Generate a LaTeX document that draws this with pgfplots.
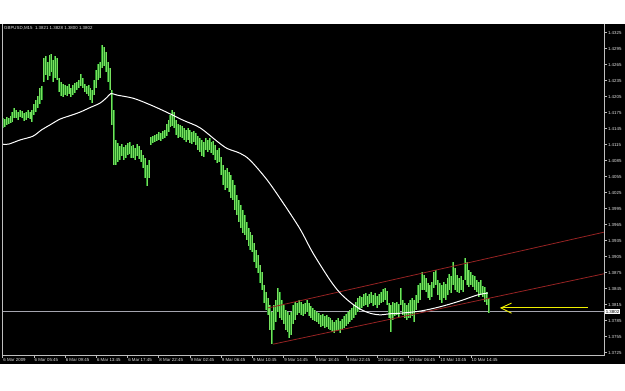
\documentclass[border=0pt]{standalone}
\usepackage{fontspec}
\setmainfont{Liberation Sans}
\usepackage{pgfplots}
\usepackage{pgfplotstable}
\pgfplotsset{compat=1.18}
\definecolor{barDark}{RGB}{40,140,40}
\definecolor{barLight}{RGB}{120,225,95}
\definecolor{chan}{RGB}{150,35,35}
\definecolor{axgray}{RGB}{190,190,190}
\definecolor{hline}{RGB}{165,165,175}
\definecolor{txt}{RGB}{225,225,225}
\definecolor{arrowy}{RGB}{240,240,0}

\pgfplotstableread{
i h l
0 1.4165 1.4146
1 1.4163 1.4148
2 1.4167 1.4152
3 1.4165 1.4154
4 1.4169 1.4156
5 1.4176 1.4158
6 1.4184 1.4165
7 1.4180 1.4165
8 1.4176 1.4161
9 1.4180 1.4167
10 1.4178 1.4165
11 1.4174 1.4159
12 1.4176 1.4161
13 1.4180 1.4165
14 1.4176 1.4163
15 1.4180 1.4158
16 1.4191 1.4171
17 1.4199 1.4176
18 1.4206 1.4184
19 1.4221 1.4191
20 1.4225 1.4199
21 1.4278 1.4233
22 1.4281 1.4246
23 1.4270 1.4236
24 1.4283 1.4244
25 1.4285 1.4251
26 1.4274 1.4233
27 1.4281 1.4240
28 1.4278 1.4236
29 1.4240 1.4214
30 1.4233 1.4206
31 1.4229 1.4204
32 1.4227 1.4208
33 1.4225 1.4206
34 1.4229 1.4210
35 1.4221 1.4204
36 1.4227 1.4208
37 1.4231 1.4212
38 1.4233 1.4218
39 1.4236 1.4221
40 1.4248 1.4225
41 1.4240 1.4221
42 1.4229 1.4214
43 1.4225 1.4210
44 1.4227 1.4206
45 1.4221 1.4199
46 1.4218 1.4193
47 1.4236 1.4208
48 1.4255 1.4221
49 1.4266 1.4236
50 1.4270 1.4240
51 1.4302 1.4259
52 1.4298 1.4263
53 1.4289 1.4251
54 1.4270 1.4233
55 1.4259 1.4218
56 1.4218 1.4152
57 1.4180 1.4077
58 1.4124 1.4077
59 1.4118 1.4083
60 1.4113 1.4086
61 1.4116 1.4094
62 1.4111 1.4086
63 1.4114 1.4090
64 1.4118 1.4096
65 1.4120 1.4098
66 1.4113 1.4090
67 1.4114 1.4090
68 1.4109 1.4086
69 1.4116 1.4094
70 1.4113 1.4088
71 1.4105 1.4083
72 1.4096 1.4071
73 1.4090 1.4053
74 1.4077 1.4038
75 1.4086 1.4053
76 1.4129 1.4114
77 1.4131 1.4118
78 1.4133 1.4120
79 1.4135 1.4122
80 1.4139 1.4124
81 1.4137 1.4122
82 1.4141 1.4126
83 1.4143 1.4128
84 1.4154 1.4131
85 1.4161 1.4139
86 1.4171 1.4148
87 1.4180 1.4150
88 1.4176 1.4146
89 1.4161 1.4133
90 1.4154 1.4128
91 1.4152 1.4129
92 1.4150 1.4128
93 1.4146 1.4124
94 1.4143 1.4120
95 1.4146 1.4124
96 1.4143 1.4118
97 1.4139 1.4116
98 1.4141 1.4120
99 1.4137 1.4114
100 1.4131 1.4105
101 1.4128 1.4101
102 1.4124 1.4094
103 1.4120 1.4092
104 1.4128 1.4105
105 1.4124 1.4101
106 1.4128 1.4105
107 1.4120 1.4099
108 1.4122 1.4096
109 1.4114 1.4086
110 1.4105 1.4081
111 1.4109 1.4083
112 1.4092 1.4058
113 1.4077 1.4039
114 1.4068 1.4030
115 1.4071 1.4034
116 1.4064 1.4026
117 1.4058 1.4015
118 1.4049 1.4011
119 1.4039 1.3993
120 1.4021 1.3983
121 1.4011 1.3970
122 1.4002 1.3959
123 1.3993 1.3949
124 1.3983 1.3946
125 1.3970 1.3936
126 1.3959 1.3925
127 1.3951 1.3918
128 1.3946 1.3914
129 1.3931 1.3895
130 1.3918 1.3884
131 1.3908 1.3874
132 1.3889 1.3856
133 1.3876 1.3843
134 1.3852 1.3818
135 1.3839 1.3805
136 1.3828 1.3796
137 1.3814 1.3768
138 1.3801 1.3741
139 1.3814 1.3768
140 1.3824 1.3783
141 1.3846 1.3801
142 1.3839 1.3790
143 1.3824 1.3786
144 1.3814 1.3778
145 1.3805 1.3768
146 1.3801 1.3764
147 1.3796 1.3753
148 1.3801 1.3758
149 1.3814 1.3778
150 1.3820 1.3786
151 1.3818 1.3796
152 1.3824 1.3799
153 1.3820 1.3796
154 1.3816 1.3794
155 1.3818 1.3798
156 1.3824 1.3801
157 1.3818 1.3794
158 1.3813 1.3790
159 1.3809 1.3786
160 1.3805 1.3784
161 1.3801 1.3783
162 1.3799 1.3778
163 1.3796 1.3774
164 1.3798 1.3776
165 1.3794 1.3772
166 1.3796 1.3774
167 1.3792 1.3770
168 1.3790 1.3768
169 1.3786 1.3764
170 1.3783 1.3762
171 1.3786 1.3766
172 1.3790 1.3768
173 1.3784 1.3762
174 1.3788 1.3768
175 1.3794 1.3772
176 1.3798 1.3776
177 1.3801 1.3779
178 1.3805 1.3783
179 1.3809 1.3786
180 1.3814 1.3790
181 1.3820 1.3796
182 1.3828 1.3801
183 1.3831 1.3805
184 1.3829 1.3809
185 1.3835 1.3813
186 1.3837 1.3814
187 1.3831 1.3811
188 1.3835 1.3816
189 1.3839 1.3818
190 1.3833 1.3813
191 1.3837 1.3814
192 1.3831 1.3809
193 1.3835 1.3814
194 1.3839 1.3818
195 1.3844 1.3820
196 1.3846 1.3824
197 1.3841 1.3814
198 1.3818 1.3790
199 1.3814 1.3764
200 1.3820 1.3786
201 1.3818 1.3794
202 1.3820 1.3796
203 1.3816 1.3792
204 1.3846 1.3814
205 1.3824 1.3796
206 1.3818 1.3790
207 1.3814 1.3786
208 1.3818 1.3790
209 1.3824 1.3790
210 1.3828 1.3794
211 1.3824 1.3783
212 1.3833 1.3805
213 1.3852 1.3818
214 1.3856 1.3824
215 1.3876 1.3843
216 1.3871 1.3843
217 1.3865 1.3839
218 1.3856 1.3828
219 1.3852 1.3824
220 1.3858 1.3829
221 1.3876 1.3846
222 1.3880 1.3852
223 1.3861 1.3833
224 1.3856 1.3824
225 1.3852 1.3818
226 1.3858 1.3828
227 1.3854 1.3824
228 1.3865 1.3833
229 1.3873 1.3843
230 1.3869 1.3837
231 1.3895 1.3852
232 1.3884 1.3843
233 1.3871 1.3839
234 1.3865 1.3837
235 1.3869 1.3843
236 1.3861 1.3839
237 1.3903 1.3861
238 1.3895 1.3852
239 1.3880 1.3848
240 1.3876 1.3852
241 1.3871 1.3848
242 1.3869 1.3843
243 1.3861 1.3839
244 1.3858 1.3829
245 1.3861 1.3833
246 1.3850 1.3829
247 1.3848 1.3820
248 1.3839 1.3814
249 1.3828 1.3800
}\bars

\begin{document}
\begin{tikzpicture}[x=1pt,y=1pt]
\fill[white] (-2.7,-36) rectangle (622.3,355);
\fill[black] (-2.7,-9) rectangle (622.3,331);
\begin{axis}[
  at={(0,0)}, anchor=south west,
  scale only axis, width=601.3pt, height=331pt,
  xmin=0, xmax=308.2, ymin=1.37207, ymax=1.43413,
  axis line style={draw=none},
  tick align=outside, major tick length=3pt,
  tick style={axgray, line width=0.6pt},
  xtick pos=left, ytick pos=right, yticklabel pos=right,
  xtick={0,16,32,48,64,80,96,112,128,144,160,176,192,208,224,240},
  xticklabels={6 Mar 2009,6 Mar 05:45,6 Mar 09:45,6 Mar 13:45,6 Mar 17:45,8 Mar 22:45,9 Mar 02:45,9 Mar 06:45,9 Mar 10:45,9 Mar 14:45,9 Mar 18:45,9 Mar 22:45,10 Mar 02:45,10 Mar 06:45,10 Mar 10:45,10 Mar 14:45},
  ytick={1.3725,1.3755,1.3785,1.3815,1.3845,1.3875,1.3905,1.3935,1.3965,1.3995,1.4025,1.4055,1.4085,1.4115,1.4145,1.4175,1.4205,1.4235,1.4265,1.4295,1.4325},
  yticklabels={1.3725,1.3755,1.3785,1.3815,1.3845,1.3875,1.3905,1.3935,1.3965,1.3995,1.4025,1.4055,1.4085,1.4115,1.4145,1.4175,1.4205,1.4235,1.4265,1.4295,1.4325},
  xticklabel style={font=\fontsize{4.4}{5}\selectfont, text=txt, anchor=north west, inner sep=0.5pt},
  yticklabel style={font=\fontsize{4.4}{5}\selectfont, text=txt, anchor=west, inner sep=0.8pt},
  /pgf/number format/assume math mode=true,
]
\addplot[hline, line width=0.7pt, forget plot] coordinates {(0,1.3802) (308.2,1.3802)};
\addplot[barDark, line width=2.0pt, mark=none, forget plot,
  quiver={u=0, v=\thisrow{l}-\thisrow{h}}]
  table[x=i, y=h] {\bars};
\addplot[barLight, line width=1.0pt, mark=none, forget plot,
  quiver={u=0, v=\thisrow{l}-\thisrow{h}}]
  table[x=i, y=h] {\bars};
\addplot[chan, line width=0.8pt] coordinates {(136.1,1.3809) (308.2,1.3951)};
\addplot[chan, line width=0.8pt] coordinates {(138.6,1.3741) (308.2,1.3873)};
\addplot[white, line width=1pt, smooth] coordinates {
(0,1.4116) (3,1.4116) (9,1.4124) (15.5,1.4131) (20,1.4143) (24.2,1.4152) (29.4,1.4163)
(35,1.4170) (39.6,1.4176) (45,1.4185) (49.9,1.4193) (53.5,1.4204) (55.5,1.4211)
(58.6,1.4208) (67,1.4202) (75.5,1.4190) (84,1.4176) (92.4,1.4161) (101,1.4147)
(110,1.4121) (115,1.4108) (121.6,1.4099) (126.8,1.4086) (135.5,1.4049) (143.7,1.4006)
(152.4,1.3957) (159,1.3912) (167.8,1.3861) (172.9,1.3837) (178,1.3820) (183.1,1.3807)
(188.3,1.3799) (193.4,1.3796) (198.5,1.3798) (203.6,1.3799) (213.9,1.3803) (224.1,1.3811)
(234.4,1.3822) (243.1,1.3833) (248.7,1.3837)};
\addplot[arrowy, line width=0.9pt] coordinates {(255.4,1.3809) (300.1,1.3809)};
\addplot[arrowy, line width=0.9pt] coordinates {(260.8,1.3818) (255.4,1.3809) (260.8,1.3799)};
\coordinate (pbox) at (axis cs:308.2,1.3802);
\end{axis}
\draw[axgray, line width=0.7pt] (-0.5,0) -- (601.3,0) -- (601.3,331);
\draw[axgray, line width=0.7pt] (-0.5,0) -- (-0.5,331);
\node[fill=white, text=black, inner sep=0.8pt, anchor=west, font=\fontsize{4.4}{5}\selectfont] at ([xshift=0.8pt]pbox) {1.3802};
\node[anchor=west, text=txt, inner sep=0pt, font=\fontsize{4.4}{5}\selectfont] at (1.3,326.7) {GBPUSD,M15\ \ 1.3821 1.3828 1.3800 1.3802};
\end{tikzpicture}
\end{document}
